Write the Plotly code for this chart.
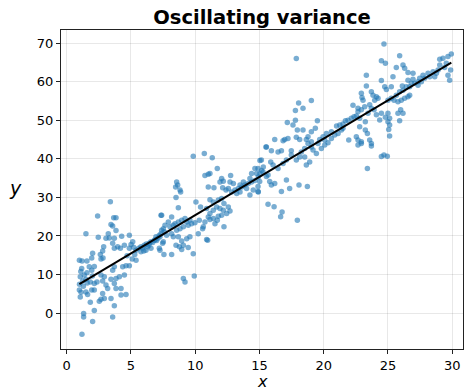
import numpy as np
import plotly.graph_objects as go

# Estimated scatter points (x, y)
x_vals = [
    3.40, 2.41, 3.66, 3.84, 3.45, 3.58, 1.50, 2.46, 3.24, 3.32, 3.06, 3.71, 4.28, 4.88, 3.84,
    3.97, 4.49, 5.01, 5.21, 4.88, 4.18, 2.88, 2.80, 2.62, 3.58, 3.71, 2.02, 1.95, 2.67, 2.83,
    0.99, 1.58, 1.17, 1.76, 2.15, 1.95, 1.58, 1.06, 1.37, 1.50, 1.25, 1.84, 2.15, 2.36, 0.99,
    1.12, 1.50, 1.63, 1.95, 2.15, 2.67, 2.93, 2.80, 3.45, 3.84, 4.10, 4.49, 3.71, 3.58, 4.36,
    4.62, 4.88, 3.71, 3.84, 3.06, 3.19, 2.80, 2.67, 2.54, 2.93, 3.45, 4.23, 4.62, 1.06, 1.84,
    2.15, 1.32, 1.32, 2.02, 3.71, 3.58, 1.19, 5.78, 6.04, 6.43, 6.82, 7.21, 7.34, 7.60, 7.47,
    7.21, 6.56, 6.17, 5.78, 5.40, 5.14, 5.40, 4.23, 6.56, 6.95, 7.34, 6.30,
    5.60, 5.90, 6.20, 6.70, 7.00, 7.10, 5.30, 6.00, 6.40, 6.90, 5.10, 4.70, 1.20, 1.10, 1.00,
    1.30, 1.60, 2.00,
    # 7.3 - 15.4
    9.85, 10.71, 11.33, 10.76, 11.02, 11.15, 11.72, 12.76, 12.06, 12.19, 11.93, 11.02, 11.46, 12.14, 12.40,
    12.58, 8.56, 8.64, 8.48, 8.82, 8.87, 8.51, 8.69, 7.39, 8.17, 7.91, 7.65, 7.26, 7.39, 7.52,
    8.04, 8.30, 8.43, 8.69, 8.95, 9.21, 9.34, 9.59, 9.72, 9.46, 9.08, 8.82, 8.56, 8.17, 7.78,
    7.52, 8.30, 8.69, 8.95, 9.34, 9.59, 8.51, 8.77, 9.08, 8.95, 9.46, 9.85, 7.57, 8.17, 7.26,
    9.08, 9.21, 9.93, 10.06, 10.42, 10.32, 9.98, 10.24, 10.58, 10.63, 10.89, 10.97, 10.76, 11.02, 11.15,
    11.41, 11.54, 11.72, 12.24, 11.15, 11.41, 10.89, 11.67, 11.93, 12.19, 12.45, 12.71, 12.58, 12.06, 11.80,
    11.15, 11.41, 11.80, 12.06, 12.24, 12.84, 13.10, 13.36, 13.62, 13.87, 14.13, 14.39, 14.65, 14.91, 15.04,
    15.17, 15.30, 15.04, 15.51, 14.91, 14.26, 14.52, 14.00, 13.49, 13.23, 13.75, 14.26, 14.78, 14.65, 14.39,
    12.71, 12.97, 13.49,
    # 14.9 - 23
    17.87, 18.05, 17.80, 18.39, 19.04, 17.61, 17.17, 17.80, 17.95, 18.39, 19.51, 19.35, 19.04, 16.19, 16.84,
    16.97, 17.22, 15.54, 15.93, 16.71, 17.48, 16.45, 17.87, 18.13, 18.65, 18.78, 19.04, 19.17, 19.43, 19.82,
    20.08, 20.34, 20.60, 20.86, 21.12, 21.38, 21.50, 21.69, 21.89, 22.15, 22.36, 22.54, 22.28, 22.67, 22.98,
    21.95, 22.54, 22.67, 22.93, 21.50, 21.25, 21.00, 20.60, 20.21, 19.95, 19.69, 19.56, 20.08, 19.04, 18.78,
    18.52, 18.26, 18.13, 17.87, 17.48, 17.10, 16.84, 16.45, 16.06, 15.88, 15.15, 14.89, 15.28, 15.54, 15.02,
    14.89, 14.89, 15.80, 15.93, 16.19, 16.71, 17.35, 18.08, 18.73, 15.67, 16.14, 16.76, 16.65, 17.95, 17.10,
    18.52, 18.91, 18.65, 15.67,
    # 22.7 - 30
    24.69, 25.91, 24.49, 24.80, 26.17, 26.30, 25.65, 26.56, 26.95, 27.73, 28.12, 28.51, 28.90, 29.03, 29.28,
    29.67, 29.93, 29.54, 29.88, 29.67, 29.80, 29.41, 29.03, 28.77, 28.64, 28.25, 27.86, 27.47, 27.34, 27.08,
    26.82, 26.69, 26.43, 26.17, 25.91, 25.65, 25.47, 25.26, 25.00, 27.34, 27.60, 26.95, 26.56, 24.49, 23.32,
    23.32, 22.93, 23.71, 23.84, 24.10, 24.23, 23.97, 24.75, 24.88, 25.26, 25.39, 26.12, 25.78, 26.04, 26.30,
    26.56, 26.69, 23.06, 23.19, 23.58, 23.71, 22.93, 22.67, 22.80, 23.45, 23.92, 24.10, 24.49, 25.00, 25.13,
    24.80, 25.00, 25.13, 25.06, 25.13, 25.91, 26.17, 25.78, 25.99, 23.24, 23.24, 23.40, 23.58, 23.71, 22.93,
    22.67, 23.71, 24.49, 24.69, 24.95, 23.40, 22.80, 24.36,
]
y_vals = [
    28.9, 25.2, 24.7, 24.7, 23.0, 22.6, 20.6, 19.7, 20.6, 19.5, 19.4, 19.4, 19.9, 20.2, 21.4,
    17.2, 17.6, 17.8, 17.1, 16.8, 16.8, 17.2, 16.1, 15.2, 18.1, 16.8, 15.5, 14.3, 14.0, 14.3,
    13.7, 13.5, 11.6, 12.0, 12.1, 11.1, 10.5, 9.4, 9.9, 8.8, 8.3, 8.1, 7.7, 8.1, 6.0,
    5.4, 5.5, 4.8, 6.0, 6.0, 9.9, 9.4, 8.3, 8.8, 9.0, 9.4, 9.9, 12.0, 11.1, 12.0,
    12.3, 12.3, 7.7, 6.4, 7.3, 6.4, 5.1, 3.6, 3.1, 3.8, 3.8, 4.7, 4.8, 4.2, 2.8,
    0.7, -0.1, -1.0, -2.2, 1.9, -1.0, -5.5, 17.2, 17.6, 18.1, 18.9, 20.2, 25.4, 21.1, 18.1,
    16.8, 16.8, 16.3, 15.9, 16.3, 18.5, 13.7, 6.4, 18.5, 19.8, 20.6, 17.2,
    16.8, 16.9, 17.9, 18.3, 18.8, 19.4, 15.2, 16.1, 17.6, 19.0, 14.0, 14.9, 13.5, 10.8, 7.5,
    7.0, 7.8, 9.6,
    # 7.3 - 15.4
    40.7, 41.4, 40.3, 35.7, 36.0, 36.2, 37.5, 35.7, 34.9, 34.2, 34.0, 32.7, 32.5, 32.5, 31.9,
    32.3, 34.0, 33.2, 32.7, 31.9, 31.4, 30.0, 27.3, 25.4, 24.9, 23.6, 22.8, 19.8, 21.5, 21.9,
    22.4, 22.8, 23.2, 23.6, 24.1, 24.5, 23.6, 24.1, 23.2, 22.8, 22.4, 21.9, 21.5, 20.6, 20.2,
    18.5, 19.8, 19.8, 18.7, 19.3, 19.8, 17.6, 17.2, 17.6, 16.5, 17.0, 15.4, 15.2, 15.2, 16.3,
    9.0, 8.1, 9.6, 28.8, 27.5, 24.1, 23.4, 20.6, 21.9, 22.4, 19.1, 18.9, 23.6, 24.9, 24.3,
    24.5, 23.2, 24.1, 22.4, 25.8, 26.7, 27.1, 27.5, 27.1, 26.7, 25.8, 26.5, 27.5, 25.4, 25.1,
    29.4, 28.8, 29.3, 29.7, 28.4, 31.4, 31.9, 32.3, 32.7, 33.2, 33.6, 34.0, 34.4, 35.3, 36.2,
    37.0, 37.9, 39.6, 43.1, 31.4, 30.6, 31.9, 32.3, 31.4, 31.0, 34.0, 34.9, 36.2, 37.5, 36.2,
    34.0, 33.6, 33.2,
    # 14.9 - 23
    66.0, 54.5, 52.5, 53.1, 55.1, 48.8, 49.4, 50.0, 47.5, 47.5, 49.9, 47.9, 47.0, 45.0, 44.7,
    45.0, 45.3, 43.1, 42.1, 42.1, 42.1, 41.8, 45.6, 45.0, 45.0, 44.0, 43.1, 42.3, 41.4, 42.7,
    43.6, 44.2, 45.3, 46.2, 46.6, 47.5, 49.0, 49.9, 50.0, 50.5, 50.9, 51.1, 53.9, 53.1, 55.9,
    44.9, 45.7, 43.6, 44.0, 47.9, 48.8, 48.5, 47.0, 46.6, 45.7, 45.0, 44.0, 44.9, 44.4, 45.7,
    42.7, 41.8, 40.5, 39.7, 41.0, 39.7, 38.8, 37.5, 38.4, 39.2, 39.7, 37.5, 36.6, 35.4, 34.1,
    32.8, 31.5, 34.1, 33.2, 33.6, 31.5, 32.3, 33.2, 32.8, 28.2, 27.6, 26.2, 25.0, 24.1, 34.5,
    40.5, 39.2, 38.4, 35.8,
    # 22.7 - 30
    69.8, 66.7, 65.4, 64.8, 64.3, 63.5, 63.7, 62.4, 62.2, 61.7, 62.2, 62.6, 63.0, 65.8, 66.1,
    66.5, 67.2, 64.8, 63.0, 61.7, 60.4, 63.7, 64.3, 62.2, 61.3, 61.3, 60.9, 60.9, 60.0, 59.6,
    59.6, 58.7, 58.7, 57.8, 57.4, 56.5, 55.2, 55.7, 55.2, 59.1, 60.0, 60.6, 60.4, 60.3, 61.7,
    58.9, 57.0, 57.4, 56.5, 56.1, 55.7, 55.2, 58.7, 58.0, 58.7, 61.3, 58.9, 54.8, 55.2, 55.7,
    56.1, 56.5, 55.2, 53.5, 54.0, 53.1, 52.7, 52.2, 50.5, 51.8, 52.7, 51.4, 51.8, 51.8, 50.5,
    50.8, 49.6, 48.8, 47.6, 45.9, 49.9, 51.8, 51.8, 52.7, 49.6, 47.5, 46.6, 44.9, 44.0, 44.4,
    44.9, 43.3, 40.6, 41.0, 40.7, 37.5, 48.3, 50.1,
]

x_ticks = [0, 5, 10, 15, 20, 25, 30]
y_ticks = [0, 10, 20, 30, 40, 50, 60, 70]
title_text = "Oscillating variance"
x_label = "x"
y_label = "y"

x = np.array(x_vals)
y = np.array(y_vals)
slope, intercept = np.polyfit(x, y, 1)
x_line = np.array([x.min(), x.max()])
y_line = slope * x_line + intercept

fig = go.Figure()
fig.add_trace(go.Scatter(
    x=x, y=y, mode="markers",
    marker=dict(size=5.5, color="rgba(31,119,180,0.6)", line=dict(width=0)),
    showlegend=False, hoverinfo="skip"))
fig.add_trace(go.Scatter(
    x=x_line, y=y_line, mode="lines",
    line=dict(color="black", width=2), showlegend=False, hoverinfo="skip"))

font = "DejaVu Sans"
axis_common = dict(
    showgrid=True, gridcolor="rgba(0,0,0,0.09)", gridwidth=1,
    showline=True, linecolor="#222222", linewidth=1.2, mirror=True,
    ticks="outside", ticklen=4, tickwidth=1, tickcolor="#222222",
    zeroline=False, tickfont=dict(family=font, size=13, color="black"),
    automargin=False,
)
fig.update_xaxes(range=[-0.44, 30.84], tickvals=x_ticks, **axis_common)
fig.update_yaxes(range=[-9.3, 73.4], tickvals=y_ticks, **axis_common)

fig.add_annotation(text="<i>" + x_label + "</i>", xref="paper", yref="paper",
                   x=0.5, y=-0.069, xanchor="center", yanchor="top", showarrow=False,
                   borderpad=0, font=dict(family=font, size=16, color="black"))
fig.add_annotation(text="<i>" + y_label + "</i>", xref="paper", yref="paper",
                   x=-0.114, y=0.505, xanchor="center", yanchor="middle", showarrow=False,
                   font=dict(family=font, size=19, color="black"))

fig.update_layout(
    width=468, height=390,
    margin=dict(l=61, r=5, t=30, b=41, autoexpand=False),
    paper_bgcolor="white", plot_bgcolor="white",
    title=dict(text="<b>" + title_text + "</b>", x=0.5, xanchor="center", xref="paper",
               y=0.957, yanchor="middle", font=dict(family=font, size=19.5, color="black")),
)
fig.write_html("out.html")
